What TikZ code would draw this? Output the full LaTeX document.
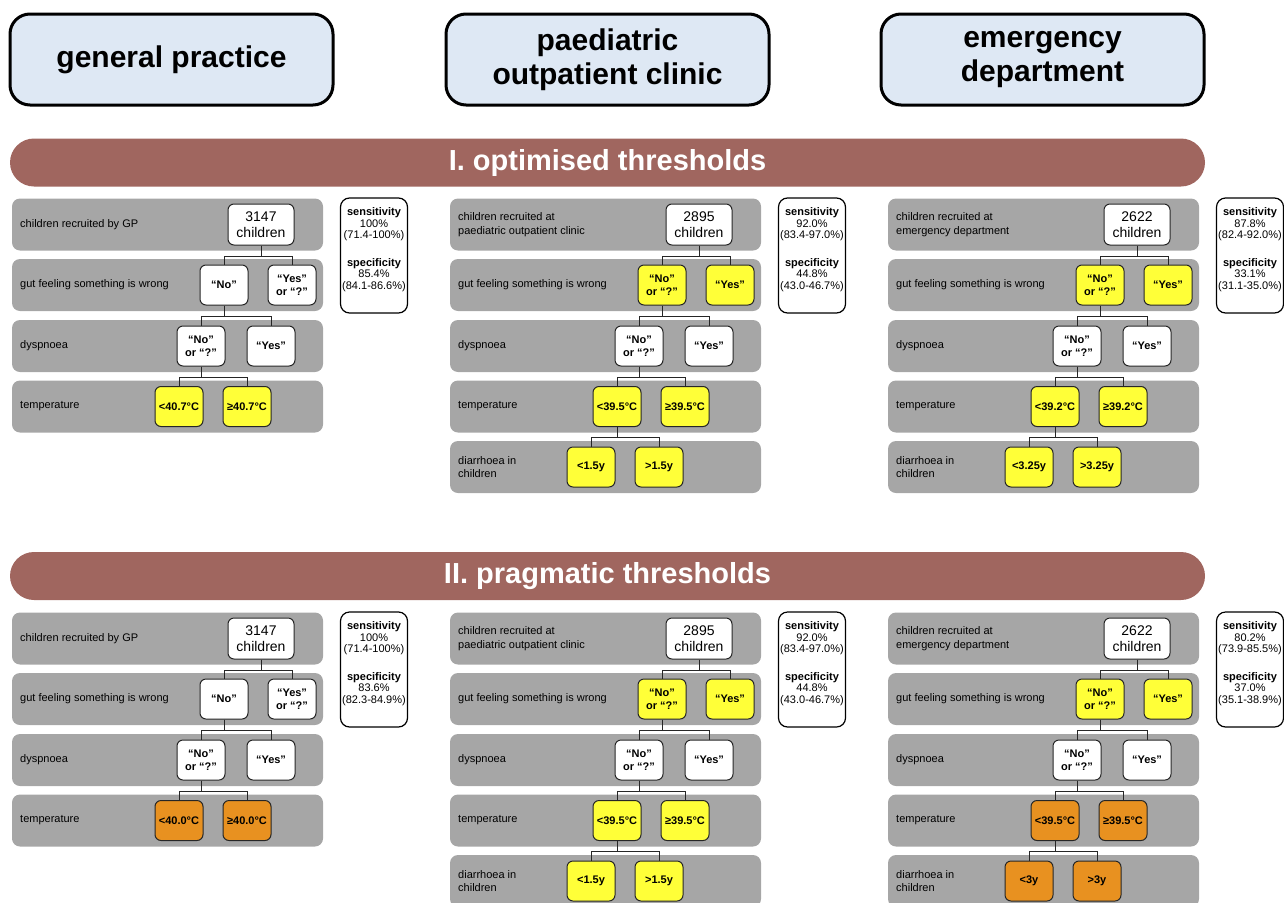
\documentclass[tikz,border=0pt]{standalone}
\usepackage{fontspec}
\setmainfont{Liberation Sans}
\definecolor{hdblue}{RGB}{222,232,244}
\definecolor{bnred}{RGB}{160,102,95}
\definecolor{rwgrey}{RGB}{166,166,166}
\definecolor{yel}{RGB}{255,255,56}
\definecolor{org}{RGB}{232,145,32}
\begin{document}
\begin{tikzpicture}[x=1pt,y=-1pt]
\tikzstyle{hd} = [rectangle,rounded corners=20pt,draw=black,line width=3pt,fill=hdblue,minimum width=323pt,minimum height=91pt,align=center,font=\fontsize{30}{34}\selectfont\bfseries] %header
\tikzstyle{bn} = [rectangle,rounded corners=24pt,fill=bnred,minimum width=1195pt,minimum height=48pt,text=white,font=\fontsize{29}{33}\selectfont\bfseries] %banner
\tikzstyle{rw} = [rectangle,rounded corners=8pt,fill=rwgrey,minimum width=311pt,minimum height=52pt] %row band
\tikzstyle{lb} = [anchor=west,align=left,inner sep=0pt,font=\fontsize{11}{13.5}\selectfont] %row label
\tikzstyle{bx} = [rectangle,rounded corners=6pt,draw=black!85,line width=1pt,fill=white,minimum width=48pt,minimum height=40pt,inner sep=1pt,align=center,font=\fontsize{11}{13}\selectfont\bfseries] %answer box
\tikzstyle{nb} = [bx,minimum width=66pt,minimum height=41pt,font=\fontsize{14}{16}\selectfont] %number box
\tikzstyle{ye} = [bx,fill=yel] %yellow box
\tikzstyle{og} = [bx,fill=org] %orange box
\tikzstyle{ss} = [rectangle,rounded corners=9pt,draw=black,line width=1.2pt,fill=white,minimum width=67pt,minimum height=115pt,inner sep=1pt,text depth=13.5pt,align=center,font=\fontsize{11}{11.5}\selectfont] %sens/spec box
\tikzstyle{ln} = [-,line width=1pt,draw=black!85] %link
\useasboundingbox (0,0) rectangle (1284,902);
\clip (0,0) rectangle (1284,902);
% headers
\node[hd](h1)at(171.5,59.5){general practice};
\node[hd](h2)at(607.5,59.5){paediatric\\outpatient clinic};
\node[hd](h3)at(1042.5,59.5){emergency\\department};
% banners
\node[bn](t1)at(607.5,162.5){I. optimised thresholds};
\node[bn](t2)at(607.5,576){II. pragmatic thresholds};
% I, general practice
\begin{scope}[shift={(0,0)}]
\node[rw](ag1)at(167.5,224.5){};
\node[rw](ag2)at(167.5,285){};
\node[rw](ag3)at(167.5,346){};
\node[rw](ag4)at(167.5,406.5){};
\node[lb](al1)at(20,224.5){children recruited by GP};
\node[lb](al2)at(20,285){gut feeling something is wrong};
\node[lb](al3)at(20,346){dyspnoea};
\node[lb](al4)at(20,406.5){temperature};
\node[nb](aa)at(261,224.5){3147\\children};
\node[bx](ab1)at(224,285){“No”};
\node[bx](ab2)at(292,285){“Yes”\\or “?”};
\node[bx](ac1)at(201,346){“No”\\or “?”};
\node[bx](ac2)at(271,346){“Yes”};
\node[ye](ad1)at(179,406.5){<40.7°C};
\node[ye](ad2)at(247,406.5){≥40.7°C};
\draw[ln](aa.south)--++(0,10.5)-|(ab1.north);
\draw[ln](aa.south)--++(0,10.5)-|(ab2.north);
\draw[ln](ab1.south)--++(0,10.5)-|(ac1.north);
\draw[ln](ab1.south)--++(0,10.5)-|(ac2.north);
\draw[ln](ac1.south)--++(0,10.5)-|(ad1.north);
\draw[ln](ac1.south)--++(0,10.5)-|(ad2.north);
\node[ss](as)at(374,255.5){\textbf{sensitivity}\\100\%\\(71.4-100\%)\\[16pt]\textbf{specificity}\\85.4\%\\(84.1-86.6\%)};
\end{scope}
% I, paediatric outpatient clinic
\begin{scope}[shift={(438,0)}]
\node[rw](bg1)at(167.5,224.5){};
\node[rw](bg2)at(167.5,285){};
\node[rw](bg3)at(167.5,346){};
\node[rw](bg4)at(167.5,406.5){};
\node[rw](bg5)at(167.5,467){};
\node[lb](bl1)at(20,224.5){children recruited at\\paediatric outpatient clinic};
\node[lb](bl2)at(20,285){gut feeling something is wrong};
\node[lb](bl3)at(20,346){dyspnoea};
\node[lb](bl4)at(20,406.5){temperature};
\node[lb](bl5)at(20,467){diarrhoea in\\children};
\node[nb](ba)at(261,224.5){2895\\children};
\node[ye](bb1)at(224,285){“No”\\or “?”};
\node[ye](bb2)at(292,285){“Yes”};
\node[bx](bc1)at(201,346){“No”\\or “?”};
\node[bx](bc2)at(271,346){“Yes”};
\node[ye](bd1)at(179,406.5){<39.5°C};
\node[ye](bd2)at(247,406.5){≥39.5°C};
\node[ye](be1)at(153,467){<1.5y};
\node[ye](be2)at(221,467){>1.5y};
\draw[ln](ba.south)--++(0,10.5)-|(bb1.north);
\draw[ln](ba.south)--++(0,10.5)-|(bb2.north);
\draw[ln](bb1.south)--++(0,10.5)-|(bc1.north);
\draw[ln](bb1.south)--++(0,10.5)-|(bc2.north);
\draw[ln](bc1.south)--++(0,10.5)-|(bd1.north);
\draw[ln](bc1.south)--++(0,10.5)-|(bd2.north);
\draw[ln](bd1.south)--++(0,10.5)-|(be1.north);
\draw[ln](bd1.south)--++(0,10.5)-|(be2.north);
\node[ss](bs)at(374,255.5){\textbf{sensitivity}\\92.0\%\\(83.4-97.0\%)\\[16pt]\textbf{specificity}\\44.8\%\\(43.0-46.7\%)};
\end{scope}
% I, emergency department
\begin{scope}[shift={(876,0)}]
\node[rw](cg1)at(167.5,224.5){};
\node[rw](cg2)at(167.5,285){};
\node[rw](cg3)at(167.5,346){};
\node[rw](cg4)at(167.5,406.5){};
\node[rw](cg5)at(167.5,467){};
\node[lb](cl1)at(20,224.5){children recruited at\\emergency department};
\node[lb](cl2)at(20,285){gut feeling something is wrong};
\node[lb](cl3)at(20,346){dyspnoea};
\node[lb](cl4)at(20,406.5){temperature};
\node[lb](cl5)at(20,467){diarrhoea in\\children};
\node[nb](ca)at(261,224.5){2622\\children};
\node[ye](cb1)at(224,285){“No”\\or “?”};
\node[ye](cb2)at(292,285){“Yes”};
\node[bx](cc1)at(201,346){“No”\\or “?”};
\node[bx](cc2)at(271,346){“Yes”};
\node[ye](cd1)at(179,406.5){<39.2°C};
\node[ye](cd2)at(247,406.5){≥39.2°C};
\node[ye](ce1)at(153,467){<3.25y};
\node[ye](ce2)at(221,467){>3.25y};
\draw[ln](ca.south)--++(0,10.5)-|(cb1.north);
\draw[ln](ca.south)--++(0,10.5)-|(cb2.north);
\draw[ln](cb1.south)--++(0,10.5)-|(cc1.north);
\draw[ln](cb1.south)--++(0,10.5)-|(cc2.north);
\draw[ln](cc1.south)--++(0,10.5)-|(cd1.north);
\draw[ln](cc1.south)--++(0,10.5)-|(cd2.north);
\draw[ln](cd1.south)--++(0,10.5)-|(ce1.north);
\draw[ln](cd1.south)--++(0,10.5)-|(ce2.north);
\node[ss](cs)at(374,255.5){\textbf{sensitivity}\\87.8\%\\(82.4-92.0\%)\\[16pt]\textbf{specificity}\\33.1\%\\(31.1-35.0\%)};
\end{scope}
% II, general practice
\begin{scope}[shift={(0,414)}]
\node[rw](dg1)at(167.5,224.5){};
\node[rw](dg2)at(167.5,285){};
\node[rw](dg3)at(167.5,346){};
\node[rw](dg4)at(167.5,406.5){};
\node[lb](dl1)at(20,224.5){children recruited by GP};
\node[lb](dl2)at(20,285){gut feeling something is wrong};
\node[lb](dl3)at(20,346){dyspnoea};
\node[lb](dl4)at(20,406.5){temperature};
\node[nb](da)at(261,224.5){3147\\children};
\node[bx](db1)at(224,285){“No”};
\node[bx](db2)at(292,285){“Yes”\\or “?”};
\node[bx](dc1)at(201,346){“No”\\or “?”};
\node[bx](dc2)at(271,346){“Yes”};
\node[og](dd1)at(179,406.5){<40.0°C};
\node[og](dd2)at(247,406.5){≥40.0°C};
\draw[ln](da.south)--++(0,10.5)-|(db1.north);
\draw[ln](da.south)--++(0,10.5)-|(db2.north);
\draw[ln](db1.south)--++(0,10.5)-|(dc1.north);
\draw[ln](db1.south)--++(0,10.5)-|(dc2.north);
\draw[ln](dc1.south)--++(0,10.5)-|(dd1.north);
\draw[ln](dc1.south)--++(0,10.5)-|(dd2.north);
\node[ss](ds)at(374,255.5){\textbf{sensitivity}\\100\%\\(71.4-100\%)\\[16pt]\textbf{specificity}\\83.6\%\\(82.3-84.9\%)};
\end{scope}
% II, paediatric outpatient clinic
\begin{scope}[shift={(438,414)}]
\node[rw](eg1)at(167.5,224.5){};
\node[rw](eg2)at(167.5,285){};
\node[rw](eg3)at(167.5,346){};
\node[rw](eg4)at(167.5,406.5){};
\node[rw](eg5)at(167.5,467){};
\node[lb](el1)at(20,224.5){children recruited at\\paediatric outpatient clinic};
\node[lb](el2)at(20,285){gut feeling something is wrong};
\node[lb](el3)at(20,346){dyspnoea};
\node[lb](el4)at(20,406.5){temperature};
\node[lb](el5)at(20,467){diarrhoea in\\children};
\node[nb](ea)at(261,224.5){2895\\children};
\node[ye](eb1)at(224,285){“No”\\or “?”};
\node[ye](eb2)at(292,285){“Yes”};
\node[bx](ec1)at(201,346){“No”\\or “?”};
\node[bx](ec2)at(271,346){“Yes”};
\node[ye](ed1)at(179,406.5){<39.5°C};
\node[ye](ed2)at(247,406.5){≥39.5°C};
\node[ye](ee1)at(153,467){<1.5y};
\node[ye](ee2)at(221,467){>1.5y};
\draw[ln](ea.south)--++(0,10.5)-|(eb1.north);
\draw[ln](ea.south)--++(0,10.5)-|(eb2.north);
\draw[ln](eb1.south)--++(0,10.5)-|(ec1.north);
\draw[ln](eb1.south)--++(0,10.5)-|(ec2.north);
\draw[ln](ec1.south)--++(0,10.5)-|(ed1.north);
\draw[ln](ec1.south)--++(0,10.5)-|(ed2.north);
\draw[ln](ed1.south)--++(0,10.5)-|(ee1.north);
\draw[ln](ed1.south)--++(0,10.5)-|(ee2.north);
\node[ss](es)at(374,255.5){\textbf{sensitivity}\\92.0\%\\(83.4-97.0\%)\\[16pt]\textbf{specificity}\\44.8\%\\(43.0-46.7\%)};
\end{scope}
% II, emergency department
\begin{scope}[shift={(876,414)}]
\node[rw](fg1)at(167.5,224.5){};
\node[rw](fg2)at(167.5,285){};
\node[rw](fg3)at(167.5,346){};
\node[rw](fg4)at(167.5,406.5){};
\node[rw](fg5)at(167.5,467){};
\node[lb](fl1)at(20,224.5){children recruited at\\emergency department};
\node[lb](fl2)at(20,285){gut feeling something is wrong};
\node[lb](fl3)at(20,346){dyspnoea};
\node[lb](fl4)at(20,406.5){temperature};
\node[lb](fl5)at(20,467){diarrhoea in\\children};
\node[nb](fa)at(261,224.5){2622\\children};
\node[ye](fb1)at(224,285){“No”\\or “?”};
\node[ye](fb2)at(292,285){“Yes”};
\node[bx](fc1)at(201,346){“No”\\or “?”};
\node[bx](fc2)at(271,346){“Yes”};
\node[og](fd1)at(179,406.5){<39.5°C};
\node[og](fd2)at(247,406.5){≥39.5°C};
\node[og](fe1)at(153,467){<3y};
\node[og](fe2)at(221,467){>3y};
\draw[ln](fa.south)--++(0,10.5)-|(fb1.north);
\draw[ln](fa.south)--++(0,10.5)-|(fb2.north);
\draw[ln](fb1.south)--++(0,10.5)-|(fc1.north);
\draw[ln](fb1.south)--++(0,10.5)-|(fc2.north);
\draw[ln](fc1.south)--++(0,10.5)-|(fd1.north);
\draw[ln](fc1.south)--++(0,10.5)-|(fd2.north);
\draw[ln](fd1.south)--++(0,10.5)-|(fe1.north);
\draw[ln](fd1.south)--++(0,10.5)-|(fe2.north);
\node[ss](fs)at(374,255.5){\textbf{sensitivity}\\80.2\%\\(73.9-85.5\%)\\[16pt]\textbf{specificity}\\37.0\%\\(35.1-38.9\%)};
\end{scope}
\end{tikzpicture}
\end{document}
